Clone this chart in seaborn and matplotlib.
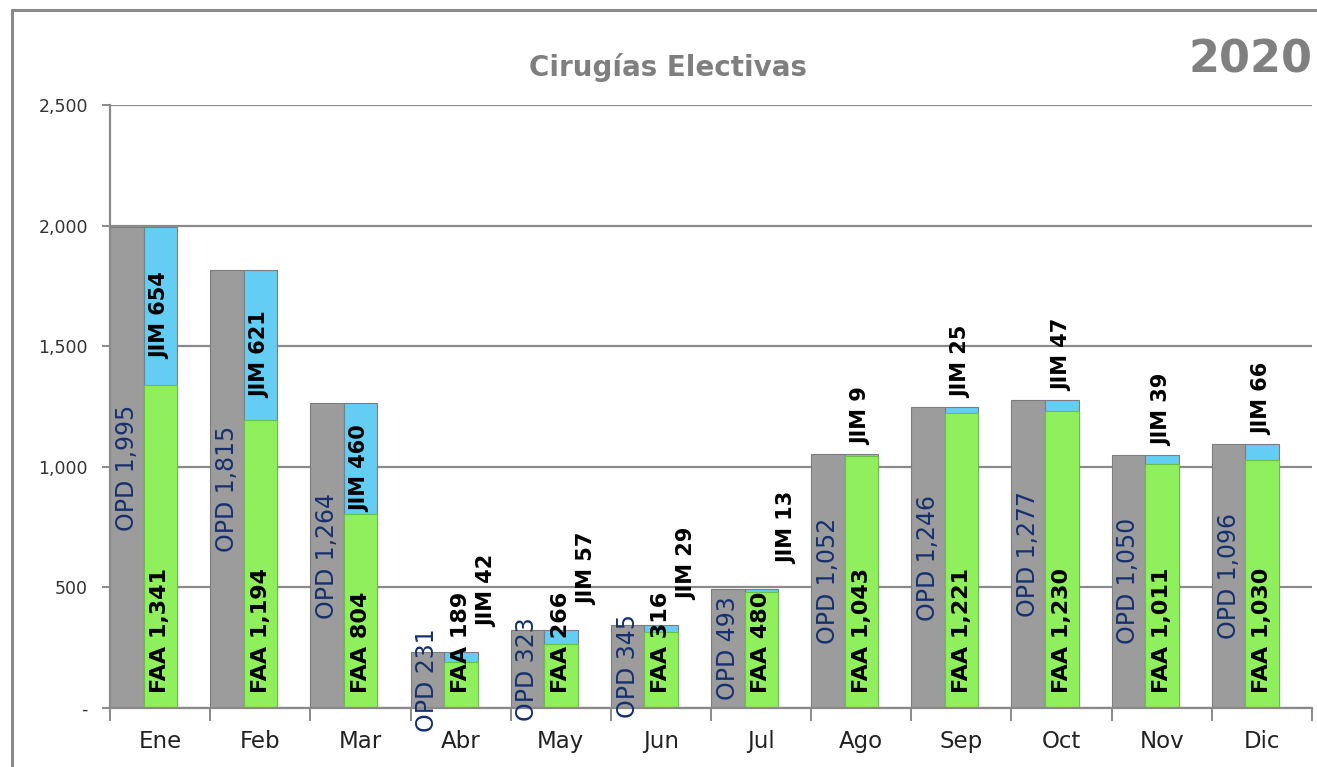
import matplotlib
matplotlib.use("Agg")
import matplotlib.pyplot as plt
import seaborn as sns
import pandas as pd
from matplotlib.lines import Line2D

# ---- data ----
meses = ['Ene', 'Feb', 'Mar', 'Abr', 'May', 'Jun', 'Jul', 'Ago', 'Sep', 'Oct', 'Nov', 'Dic']
opd = [1995, 1815, 1264, 231, 323, 345, 493, 1052, 1246, 1277, 1050, 1096]
faa = [1341, 1194, 804, 189, 266, 316, 480, 1043, 1221, 1230, 1011, 1030]
jim = [654, 621, 460, 42, 57, 29, 13, 9, 25, 47, 39, 66]
y_ticks = [0, 500, 1000, 1500, 2000, 2500]
y_tick_labels = ['-', '500', '1,000', '1,500', '2,000', '2,500']
titulo = 'Cirugías Electivas'
anio = '2020'

# ---- style ----
sns.set_style('white')
plt.rcParams['font.family'] = ['DejaVu Sans']

GRAY = '#9c9c9c'
GREEN = '#8fef5c'
BLUE = '#63cdf4'
AXIS = '#8a8a8a'

W, H = 1317, 767
fig = plt.figure(figsize=(W / 100, H / 100), dpi=100)
fig.patch.set_facecolor('white')
ax = fig.add_axes([110 / W, 1 - 708 / H, 1202 / W, 603 / H])

total = [f + j for f, j in zip(faa, jim)]
df_top = pd.DataFrame({
    'Mes': meses * 2,
    'valor': opd + total,
    'serie': ['OPD'] * len(meses) + ['JIM'] * len(meses),
})
df_faa = pd.DataFrame({'Mes': meses, 'valor': faa, 'serie': ['FAA'] * len(meses)})

BW = 0.67
sns.barplot(data=df_top, x='Mes', y='valor', hue='serie', order=meses,
            hue_order=['OPD', 'JIM'], palette={'OPD': GRAY, 'JIM': BLUE},
            width=BW, dodge=True, errorbar=None, saturation=1, legend=False,
            edgecolor='#7d7d7d', linewidth=0.8, ax=ax)
sns.barplot(data=df_faa, x='Mes', y='valor', hue='serie', order=meses,
            hue_order=['OPD', 'FAA'], palette={'OPD': GRAY, 'FAA': GREEN},
            width=BW, dodge=True, errorbar=None, saturation=1, legend=False,
            edgecolor='#6cbf45', linewidth=0.8, ax=ax)

n = len(meses)
ax.set_xlim(-BW / 2, n - BW / 2)
ax.set_ylim(0, 2500)
ax.set_xlabel('')
ax.set_ylabel('')

# grid & spines
ax.set_axisbelow(True)
ax.yaxis.grid(True, color=AXIS, linewidth=1.6)
ax.xaxis.grid(False)
for s in ['top', 'right']:
    ax.spines[s].set_visible(False)
for s in ['left', 'bottom']:
    ax.spines[s].set_color(AXIS)
    ax.spines[s].set_linewidth(1.6)

# y ticks
ax.set_yticks(y_ticks)
ax.set_yticklabels(y_tick_labels)
ax.tick_params(axis='y', which='major', length=6, width=1.4, color=AXIS,
               direction='out', pad=10, labelsize=12.5, labelcolor='#333333', left=True)

# x ticks: labels centred on the category, tick marks on boundaries
centers = [i + 0.165 for i in range(n)]
ax.set_xticks(centers)
ax.set_xticklabels(meses)
ax.set_xticks([i - BW / 2 for i in range(n + 1)], minor=True)
ax.tick_params(axis='x', which='major', length=0, pad=16, labelsize=16.5, labelcolor='#222222')
ax.tick_params(axis='x', which='minor', length=9, width=1.4, color=AXIS, direction='out', bottom=True)

# ---- labels ----
half = BW / 2
for i in range(n):
    x_opd = i - half / 2
    x_stk = i + half / 2
    ax.text(x_opd, opd[i] / 2, f'OPD {opd[i]:,}', rotation=90, ha='center', va='center',
            color='#16306e', fontsize=17, clip_on=False)
    ax.annotate(f'FAA {faa[i]:,}', xy=(x_stk, 0), xytext=(0, 15), textcoords='offset pixels',
                rotation=90, ha='center', va='bottom', color='black', fontsize=16,
                fontweight='bold')
    if jim[i] >= 200:
        ax.annotate(f'JIM {jim[i]:,}', xy=(x_stk, faa[i] + jim[i] / 2), xytext=(0, -10),
                    textcoords='offset pixels', rotation=90, ha='center', va='center',
                    color='black', fontsize=15, fontweight='bold')
    else:
        shifted = total[i] < 600
        dx = 26 if shifted else 0
        dy = 25 if shifted else 9
        ax.annotate(f'JIM {jim[i]:,}', xy=(x_stk, total[i]), xytext=(dx, dy),
                    textcoords='offset pixels', rotation=90, ha='center', va='bottom',
                    color='black', fontsize=15, fontweight='bold')

# ---- titles & frame ----
fig.text(668 / W, 1 - 67 / H, titulo, ha='center', va='center', fontsize=20,
         fontweight='bold', color='#7f7f7f')
fig.text(1313 / W, 1 - 60 / H, anio, ha='right', va='center', fontsize=32,
         fontweight='bold', color='#808080')
fig.add_artist(Line2D([12 / W, 1.0], [1 - 10 / H, 1 - 10 / H], color=AXIS, linewidth=2.2))
fig.add_artist(Line2D([12 / W, 12 / W], [0, 1 - 10 / H], color=AXIS, linewidth=2.2))

fig.savefig('out.png', dpi=100, facecolor='white')
